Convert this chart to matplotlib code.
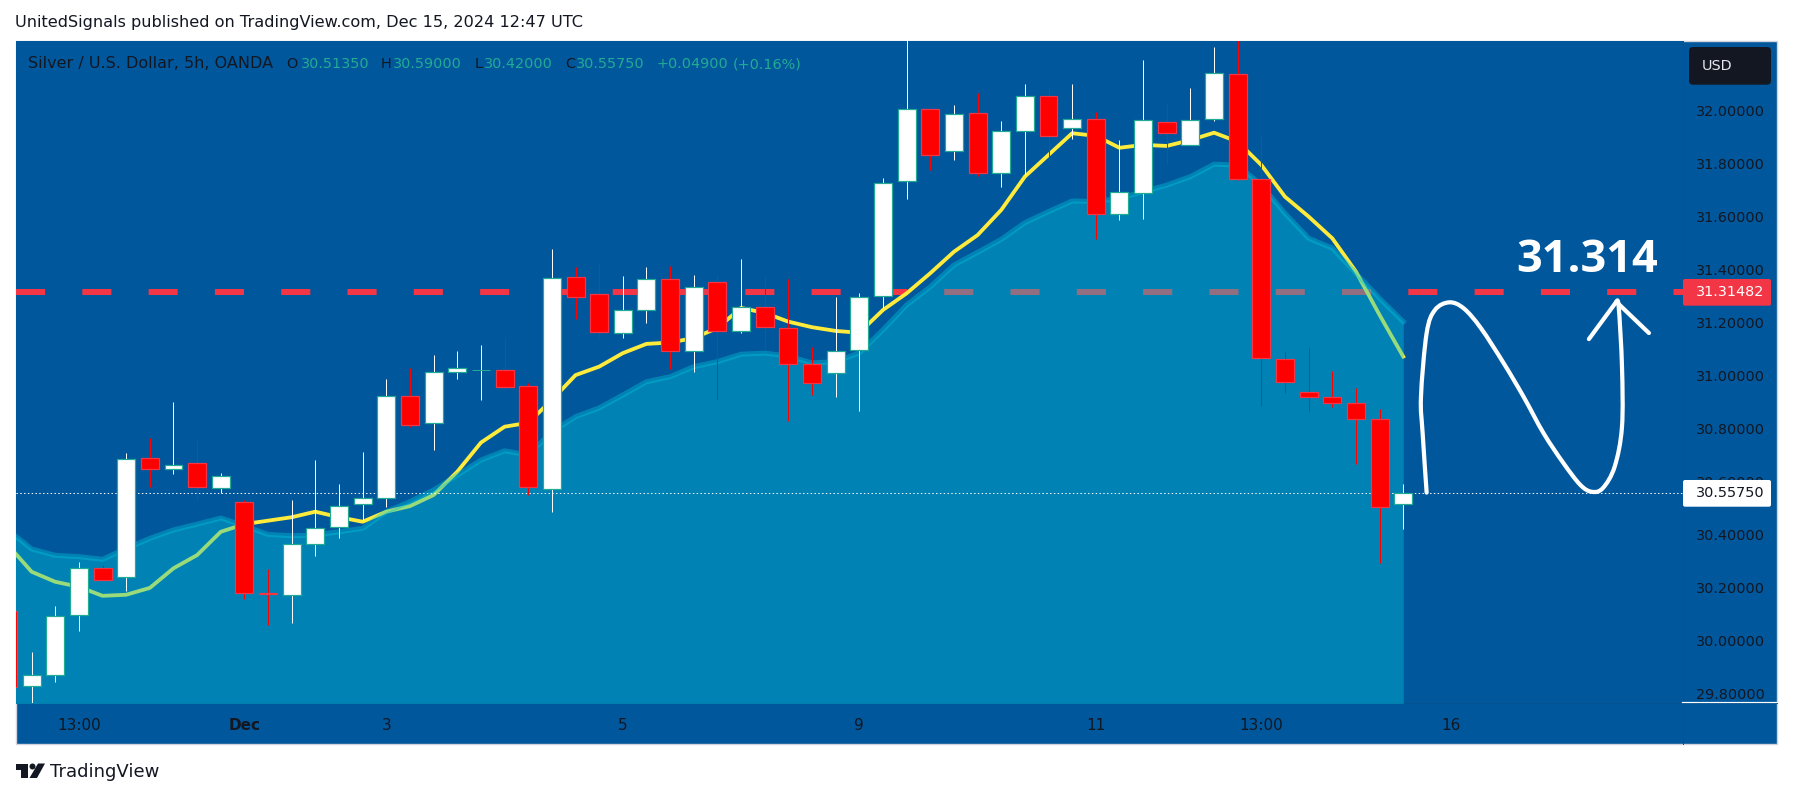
import matplotlib
matplotlib.use("Agg")
import matplotlib.pyplot as plt
from matplotlib.patches import Rectangle, FancyBboxPatch, Polygon, Circle, PathPatch
from matplotlib.path import Path
from matplotlib.transforms import Affine2D, Bbox, TransformedBbox
from matplotlib.ticker import FixedLocator, FixedFormatter

# ---- data: bar index runs from -1 (clipped at left edge) to 58 ----
bar_index = list(range(-1, 59))
opens = [30.110, 29.827, 29.868, 30.094, 30.274, 30.239, 30.690, 30.646, 30.669, 30.574,
         30.521, 30.178, 30.171, 30.363, 30.428, 30.514, 30.536, 30.924, 30.820, 31.013,
         31.020, 31.020, 30.960, 30.570, 31.372, 31.307, 31.160, 31.247, 31.366, 31.092,
         31.353, 31.168, 31.258, 31.179, 31.043, 31.009, 31.097, 31.301, 31.735, 32.006,
         31.848, 31.991, 31.765, 31.923, 32.058, 31.935, 31.969, 31.610, 31.689, 31.957,
         31.870, 31.969, 32.139, 31.742, 31.062, 30.939, 30.920, 30.895, 30.835, 30.5135]
highs = [30.110, 29.956, 30.129, 30.295, 30.284, 30.706, 30.764, 30.900, 30.752, 30.633,
         30.530, 30.269, 30.530, 30.681, 30.590, 30.711, 30.987, 31.028, 31.078, 31.093,
         31.116, 31.146, 30.971, 31.478, 31.412, 31.425, 31.377, 31.412, 31.415, 31.380,
         31.380, 31.441, 31.372, 31.364, 31.109, 31.298, 31.311, 31.746, 32.280, 32.006,
         32.023, 32.067, 31.962, 32.102, 32.090, 32.102, 31.995, 31.890, 32.193, 32.029,
         32.087, 32.242, 32.280, 31.906, 31.093, 31.108, 31.018, 30.952, 30.873, 30.590]
lows = [29.823, 29.763, 29.842, 30.036, 30.227, 30.186, 30.578, 30.628, 30.526, 30.555,
        30.156, 30.058, 30.065, 30.320, 30.386, 30.454, 30.503, 30.806, 30.719, 30.987,
        30.908, 30.943, 30.549, 30.486, 31.214, 31.147, 31.143, 31.200, 31.024, 31.015,
        30.908, 31.162, 31.097, 30.829, 30.927, 30.920, 30.866, 31.254, 31.667, 31.777,
        31.815, 31.756, 31.714, 31.758, 31.808, 31.893, 31.516, 31.588, 31.592, 31.796,
        31.870, 31.963, 31.738, 30.886, 30.935, 30.864, 30.880, 30.666, 30.291, 30.420]
closes = [29.823, 29.870, 30.093, 30.274, 30.227, 30.686, 30.646, 30.663, 30.578, 30.622,
          30.177, 30.176, 30.365, 30.425, 30.508, 30.539, 30.924, 30.812, 31.013, 31.030,
          31.020, 30.958, 30.580, 31.370, 31.298, 31.164, 31.249, 31.366, 31.093, 31.336,
          31.169, 31.260, 31.183, 31.043, 30.971, 31.094, 31.298, 31.729, 32.006, 31.833,
          31.990, 31.765, 31.923, 32.058, 31.905, 31.969, 31.610, 31.693, 31.965, 31.916,
          31.965, 32.142, 31.742, 31.065, 30.975, 30.920, 30.898, 30.835, 30.504, 30.5575]
ma_yellow = [30.360, 30.259, 30.221, 30.202, 30.168, 30.172, 30.198, 30.272, 30.322, 30.410,
             30.439, 30.452, 30.465, 30.486, 30.465, 30.448, 30.486, 30.507, 30.549, 30.637,
             30.747, 30.807, 30.822, 30.908, 31.002, 31.034, 31.085, 31.120, 31.125, 31.142,
             31.180, 31.256, 31.237, 31.204, 31.183, 31.169, 31.162, 31.248, 31.311, 31.387,
             31.468, 31.531, 31.626, 31.752, 31.834, 31.916, 31.906, 31.861, 31.872, 31.868,
             31.890, 31.918, 31.884, 31.796, 31.676, 31.601, 31.519, 31.393, 31.229, 31.072]
area_line = [30.417, 30.345, 30.321, 30.316, 30.306, 30.347, 30.385, 30.417, 30.439, 30.462,
             30.432, 30.400, 30.395, 30.398, 30.410, 30.423, 30.486, 30.524, 30.568, 30.624,
             30.681, 30.716, 30.700, 30.788, 30.845, 30.878, 30.927, 30.977, 30.996, 31.034,
             31.053, 31.081, 31.085, 31.074, 31.048, 31.053, 31.086, 31.173, 31.267, 31.336,
             31.418, 31.466, 31.515, 31.578, 31.620, 31.660, 31.658, 31.670, 31.695, 31.720,
             31.752, 31.799, 31.796, 31.720, 31.613, 31.519, 31.482, 31.387, 31.292, 31.204]
price_ticks = [29.8, 30.0, 30.2, 30.4, 30.6, 30.8, 31.0, 31.2, 31.4, 31.6, 31.8, 32.0]
time_ticks = [2, 9, 15, 25, 35, 45, 52, 60]
time_labels = ["13:00", "Dec", "3", "5", "9", "11", "13:00", "16"]
target_price = 31.31482
last_close = 30.5575
sketch_x = [58.99, 58.82, 58.75, 58.99, 59.34, 59.95, 60.56, 61.28, 62.24, 63.09, 63.93,
            64.77, 65.49, 65.98, 66.44, 66.94, 67.25, 67.25, 67.11, 67.01]
sketch_y = [30.558, 30.783, 30.920, 31.161, 31.248, 31.277, 31.254, 31.180, 31.048, 30.920,
            30.783, 30.670, 30.587, 30.561, 30.575, 30.656, 30.807, 31.034, 31.261, 31.279]
head_x = [65.85, 67.01, 68.39]
head_y = [31.138, 31.279, 31.161]

BG = "#01579b"
DARK = "#131722"
GREEN = "#22ab94"
W, H = 1793, 798

fig = plt.figure(figsize=(W / 100, H / 100), dpi=100, facecolor="white")
T = Affine2D().scale(1 / W, -1 / H).translate(0, 1) + fig.transFigure

# chart frame
fig.patches.append(Rectangle((15.5, 41), 1761.5, 703, transform=T, facecolor=BG,
                             edgecolor="#d1d4dc", linewidth=1.0, zorder=-1))

ax = fig.add_axes([15.5 / W, 1 - 703 / H, (1683 - 15.5) / W, (703 - 41) / H])
ax.set_facecolor(BG)
ax.set_xlim(-0.681, 69.83)
ax.set_ylim(29.763, 32.2645)
for s in ax.spines.values():
    s.set_visible(False)

PX = 72 / 100  # points per pixel

# target dashed line, then the yellow average, then the translucent area over both
ax.axhline(target_price, color="#f23645", lw=6 * PX, ls=(0, (4.85, 6.2)), dash_capstyle="butt", zorder=1)
ax.plot(bar_index, ma_yellow, color="#ffeb3b", lw=3.8 * PX, zorder=2, solid_joinstyle="round")
AREA = (0 / 255, 197 / 255, 220 / 255)
ax.fill_between(bar_index, area_line, 29.0, color=AREA, alpha=0.4, lw=0, zorder=3)
ax.plot(bar_index, area_line, color=AREA, alpha=0.4, lw=5 * PX, zorder=4)
ax.axhline(last_close, color="white", lw=1 * PX, ls=(0, (1.4, 2.4)), zorder=5)

# candles
body_w = 0.76
for x, o, h, l, c in zip(bar_index, opens, highs, lows, closes):
    up = c >= o
    wick = "white" if up else "#ff0000"
    ax.vlines(x, l, h, color=wick, lw=1 * PX, zorder=6)
    if abs(o - c) < 1e-6:
        ax.hlines(o, x - body_w / 2, x + body_w / 2, color=GREEN, lw=1 * PX, zorder=7)
    else:
        ax.bar(x, abs(c - o), bottom=min(o, c), width=body_w,
               color="white" if up else "#ff0000",
               edgecolor=GREEN if up else "#f23645", linewidth=1.2 * PX, zorder=7)

# axes
ax.yaxis.tick_right()
ax.yaxis.set_major_locator(FixedLocator(price_ticks))
ax.yaxis.set_major_formatter(FixedFormatter([f"{p:.5f}" for p in price_ticks]))
ax.tick_params(axis="y", length=0, pad=9.2, labelsize=10.4, labelcolor=DARK)
ax.xaxis.set_major_locator(FixedLocator(time_ticks))
ax.xaxis.set_major_formatter(FixedFormatter(time_labels))
ax.tick_params(axis="x", length=0, pad=11, labelsize=11, labelcolor=DARK)
for lab in ax.get_xticklabels():
    if lab.get_text() == "Dec":
        lab.set_fontweight("bold")

# clipped next date label at the price-scale edge
t18 = ax.text(1688, 725, "18", transform=T, ha="center", va="center", fontsize=11, color=DARK, zorder=9)
t18.set_clip_box(TransformedBbox(Bbox([[0, 798], [1683, 0]]), T))
t18.set_clip_on(True)

# axis separators
SEP = "#04528f"
ax.add_line(plt.Line2D([1683, 1683], [41, 744], transform=T, color=SEP, lw=1 * PX, clip_on=False, zorder=2))
ax.add_line(plt.Line2D([15.5, 1777], [703, 703], transform=T, color=SEP, lw=1 * PX, clip_on=False, zorder=2))
ax.add_line(plt.Line2D([1682, 1777], [702, 702], transform=T, color="white", lw=1.2 * PX, clip_on=False, zorder=8))

# price labels
def label_box(x0, y0, x1, y1, fc, rad=2):
    ax.add_patch(FancyBboxPatch((x0 + rad, y0 + rad), x1 - x0 - 2 * rad, y1 - y0 - 2 * rad,
                                boxstyle=f"round,pad={rad},rounding_size={rad}", transform=T,
                                facecolor=fc, edgecolor="none", clip_on=False, zorder=9))

label_box(1683, 279, 1771, 305.7, "#f23645")
ax.text(1730, 292.3, "31.31482", transform=T, ha="center", va="center", fontsize=10.4, color="white", zorder=10)
label_box(1683, 480, 1771, 506.7, "white")
ax.text(1730, 493, "30.55750", transform=T, ha="center", va="center", fontsize=10.4, color=DARK, zorder=10)
label_box(1689, 47, 1771, 84.7, DARK, rad=4)
ax.text(1702, 65.5, "USD", transform=T, ha="left", va="center", fontsize=10.4, color="#e6e8ee", zorder=10)

# freehand drawing: smooth Bezier through the read points
def smooth_path(xs, ys):
    pts = list(zip(xs, ys))
    verts, codes = [pts[0]], [Path.MOVETO]
    for i in range(len(pts) - 1):
        p0 = pts[max(i - 1, 0)]
        p1 = pts[i]
        p2 = pts[i + 1]
        p3 = pts[min(i + 2, len(pts) - 1)]
        c1 = (p1[0] + (p2[0] - p0[0]) / 6, p1[1] + (p2[1] - p0[1]) / 6)
        c2 = (p2[0] - (p3[0] - p1[0]) / 6, p2[1] - (p3[1] - p1[1]) / 6)
        verts += [c1, c2, p2]
        codes += [Path.CURVE4] * 3
    return Path(verts, codes)

ax.add_patch(PathPatch(smooth_path(sketch_x, sketch_y), facecolor="none", edgecolor="white",
                       lw=4.2 * PX, capstyle="round", joinstyle="round", zorder=8))
ax.plot(head_x, head_y, color="white", lw=4.2 * PX, solid_capstyle="round", solid_joinstyle="round", zorder=8)
ax.text(1587, 261, "31.314", transform=T, ha="center", va="center", fontsize=32.5,
        fontweight="bold", family="Open Sans", color="white", zorder=8)

# header and legend
fig.text(15 / W, 1 - 23 / H, "UnitedSignals published on TradingView.com, Dec 15, 2024 12:47 UTC",
         ha="left", va="center", fontsize=11.6, color=DARK)
legend_items = [(27.5, "Silver / U.S. Dollar, 5h, OANDA", DARK, 11.5), (286.5, "O", DARK, 10.4),
                (300.8, "30.51350", GREEN, 10.4), (381, "H", DARK, 10.4), (393, "30.59000", GREEN, 10.4),
                (475, "L", DARK, 10.4), (484, "30.42000", GREEN, 10.4), (565, "C", DARK, 10.4),
                (576, "30.55750", GREEN, 10.4), (657, "+0.04900", GREEN, 10.4), (732.5, "(+0.16%)", GREEN, 10.4)]
for x, s, col, size in legend_items:
    ax.text(x, 64, s, transform=T, ha="left", va="center", fontsize=size, color=col, zorder=10)

# logo
ax.add_patch(Polygon([(15.5, 763.5), (28, 763.5), (28, 778), (21, 778), (21, 769.5), (15.5, 769.5)],
                     transform=T, facecolor=DARK, edgecolor="none", clip_on=False))
ax.add_patch(Circle((32.5, 766.5), 3, transform=T, facecolor=DARK, edgecolor="none", clip_on=False))
ax.add_patch(Polygon([(38, 763.5), (45, 763.5), (37, 778), (29.5, 778)],
                     transform=T, facecolor=DARK, edgecolor="none", clip_on=False))
fig.text(50 / W, 1 - 772 / H, "TradingView", ha="left", va="center", fontsize=13, color=DARK)

fig.savefig("out.png", dpi=100, facecolor="white")
